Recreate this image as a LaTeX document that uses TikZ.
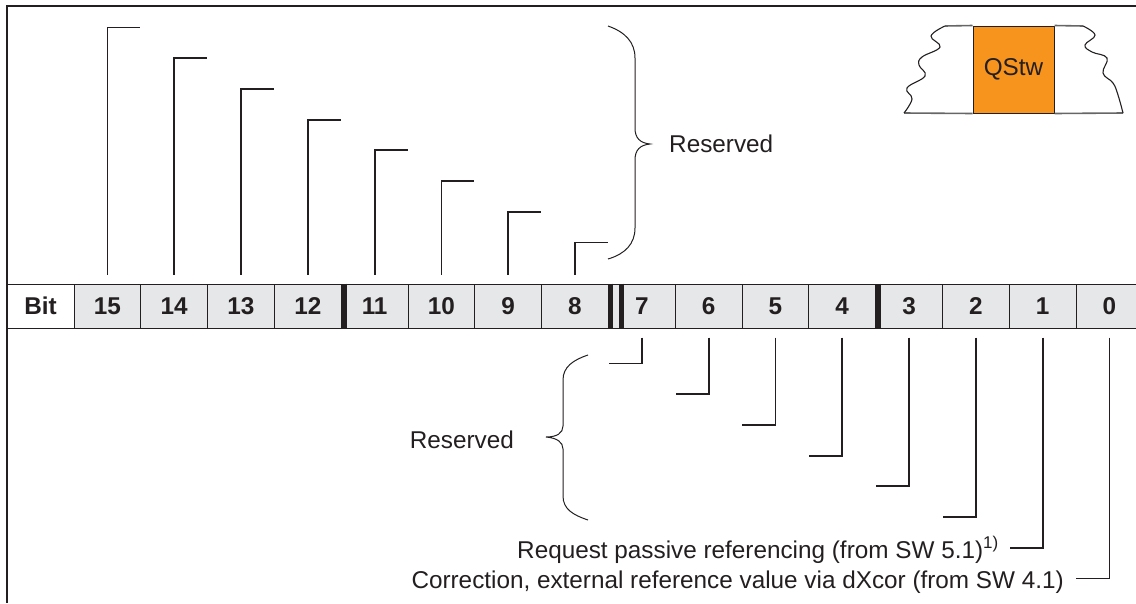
\documentclass[tikz,border=0pt]{standalone}
\usepackage{fontspec}
\setmainfont{Liberation Sans}
\usetikzlibrary{positioning,calc}
\definecolor{cellgray}{HTML}{E6E7E8}
\definecolor{qorange}{HTML}{F7941D}
\definecolor{inkgray}{HTML}{231F20}
\newcommand{\lblfont}{\fontsize{24.3}{28}\selectfont}

\begin{document}
\begin{tikzpicture}[x=1pt, y=-1pt,
    cell/.style={draw=inkgray, fill=cellgray, line width=1pt, inner sep=0pt,
                 minimum width=66.8pt, minimum height=44pt,
                 font=\lblfont\bfseries, text=inkgray},
    lead/.style={draw=inkgray, line width=1.8pt},
    sepbar/.style={draw=inkgray, line width=5pt},
    curly/.style={draw=inkgray, line width=1pt},
    lbl/.style={font=\lblfont, text=inkgray, inner sep=0pt},
    wave/.style={draw=inkgray, line width=1.1pt},
    rim/.style={draw=black!60, line width=1.6pt}
  ]
    \useasboundingbox (0,0) rectangle (1136,603);

    % frame
    \draw[inkgray, line width=1.5pt] (1136,6) -- (7,6) -- (7,603);

    % bit row
    \node[cell, fill=white, minimum width=67pt] (bit) at (40.5,306) {Bit};
    \foreach \b in {15,14,...,0}
      \node[cell] (b\b) at ({107.4+(15-\b)*66.8},306) {\b};

    % separators
    \draw[sepbar] ([xshift=2.5pt]b12.north east) -- ([xshift=2.5pt]b12.south east);
    \draw[sepbar] ([xshift=2pt]b8.north east) -- ([xshift=2pt]b8.south east);
    \draw[sepbar] ([xshift=13pt]b8.north east) -- ([xshift=13pt]b8.south east);
    \draw[sepbar] ([xshift=2.5pt]b4.north east) -- ([xshift=2.5pt]b4.south east);

    % leads up (bits 15..8)
    \foreach \b [count=\k from 0] in {15,14,...,8}
      \draw[lead] ([yshift=9pt]b\b.north) -- ++(0,{-(247-30.7*\k)}) -- ++(33,0);

    % leads down (bits 7..0)
    \foreach \b [count=\k from 0] in {7,6,...,0}
      \draw[lead] ([yshift=-9pt]b\b.south) -- ++(0,{26+30.7*\k}) -- ++(-33,0);

    % braces
    \draw[curly] (608,26) .. controls (625,32) and (635,42) .. (635,58)
      -- (635,128) .. controls (635,138) and (640,143) .. (650,144)
      .. controls (640,145) and (635,150) .. (635,160)
      -- (635,228) .. controls (635,244) and (625,254) .. (608,259);
    \draw[curly] (588,355) .. controls (573,360) and (563,367) .. (563,380)
      -- (563,426) .. controls (563,433) and (557,437) .. (546,437)
      .. controls (557,438) and (563,442) .. (563,449)
      -- (563,496) .. controls (563,509) and (573,515) .. (588,520);

    \node[lbl, anchor=west] (resup) at (669,143.5) {Reserved};
    \node[lbl, anchor=east] (reslow) at (514,440) {Reserved};

    \node[lbl, anchor=base east] (reqpas) at (999,558)
      {Request passive referencing (from SW 5.1)\textsuperscript{1)}};
    \node[lbl, anchor=base east] (corr) at (1064,588)
      {Correction, external reference value via dXcor (from SW 4.1)};

    % QStw icon
    \node[draw=inkgray, fill=qorange, line width=1pt, minimum width=81pt,
          minimum height=87pt, inner sep=0pt, font=\lblfont, text=inkgray]
      (qstw) at (1013.5,69.5) {QStw};
    \draw[rim] (945,26) -- (qstw.north west);
    \draw[rim] (qstw.north east) -- (1083,26);
    \draw[rim] (904,113) -- (qstw.south west);
    \draw[rim] (qstw.south east) -- (1123,113);
    \draw[wave] plot[smooth, tension=0.7] coordinates
      {(945,26) (931,36) (940,47) (922,57) (919,65) (925,76) (907,88) (912,99) (904,113)};
    \draw[wave] plot[smooth, tension=0.7] coordinates
      {(1083,26) (1095,35) (1085,45) (1092,52) (1107,58) (1103,73) (1113,83) (1118,95) (1123,113)};
  \end{tikzpicture}
\end{document}
